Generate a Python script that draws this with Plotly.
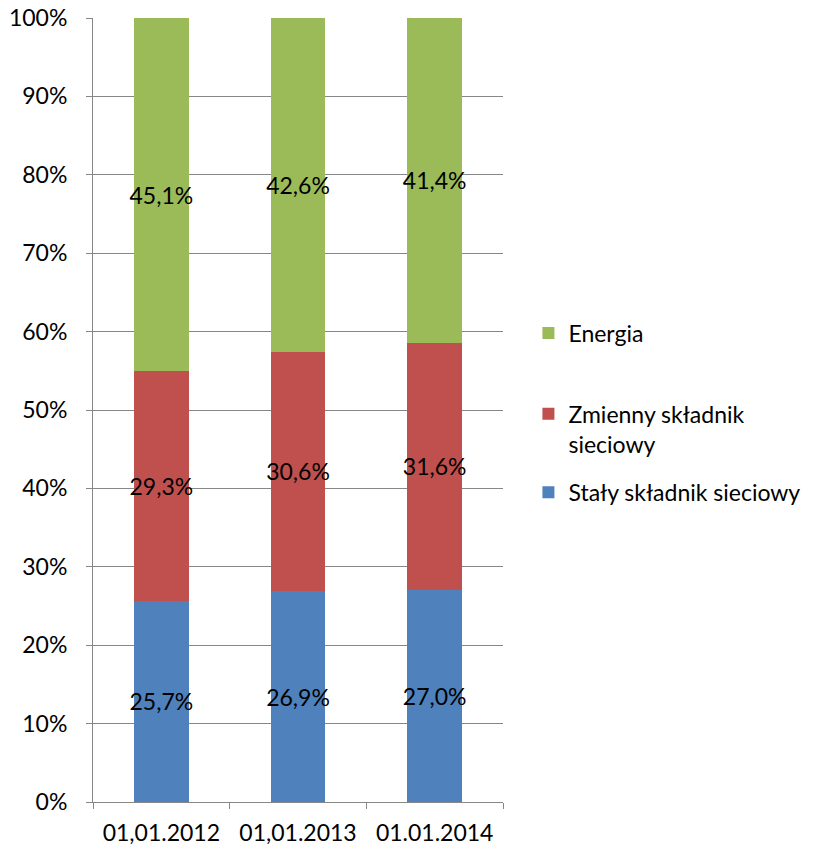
import plotly.graph_objects as go

categories = ["01,01.2012", "01,01.2013", "01.01.2014"]
staly = [25.7, 26.9, 27.0]
zmienny = [29.3, 30.6, 31.6]
energia = [45.1, 42.6, 41.4]

series = [
    ("Stały składnik sieciowy", staly, "#4F81BD", "legend3"),
    ("Zmienny składnik<br>sieciowy", zmienny, "#C0504D", "legend2"),
    ("Energia", energia, "#9BBB59", "legend"),
]

FONT = "Lato, 'Open Sans', sans-serif"
FS = 23
GRID = "#878787"

fig = go.Figure()
for name, vals, color, leg in series:
    fig.add_trace(go.Bar(
        x=categories, y=vals, name=name, marker=dict(color=color, line=dict(width=0)),
        text=[f"{v:.1f}%".replace(".", ",") for v in vals],
        textposition="inside", insidetextanchor="middle", constraintext="none",
        textangle=0,
        textfont=dict(family=FONT, size=FS, color="black"),
        legend=leg, showlegend=True, hoverinfo="skip",
    ))

legend_common = dict(font=dict(family=FONT, size=FS, color="black"),
                     xref="paper", yref="paper", xanchor="left", yanchor="middle",
                     bgcolor="rgba(0,0,0,0)", itemwidth=30, valign="top",
                     visible=True)

fig.update_layout(
    width=815, height=849,
    margin=dict(l=93, r=312, t=18, b=47, autoexpand=False),
    paper_bgcolor="white", plot_bgcolor="white",
    showlegend=True,
    barmode="stack", barnorm="percent", bargap=0.6,
    font=dict(family=FONT, size=FS, color="black"),
    legend=dict(x=1.062, y=0.598, **legend_common),
    legend2=dict(x=1.062, y=0.476, **legend_common),
    legend3=dict(x=1.062, y=0.395, **legend_common),
    xaxis=dict(showline=True, linecolor=GRID, linewidth=1, ticks="outside",
               tickson="boundaries", ticklen=6, tickcolor=GRID, automargin=False,
               ticklabelstandoff=10,
               tickfont=dict(family=FONT, size=FS, color="black")),
    yaxis=dict(range=[0, 100], dtick=10, ticksuffix="%", showline=True,
               linecolor=GRID, linewidth=1, ticks="outside", ticklen=6,
               tickcolor=GRID, showgrid=True, gridcolor=GRID, gridwidth=1,
               zeroline=False, automargin=False, ticklabelstandoff=14,
               tickfont=dict(family=FONT, size=FS, color="black")),
)

fig.write_html("out.html")
